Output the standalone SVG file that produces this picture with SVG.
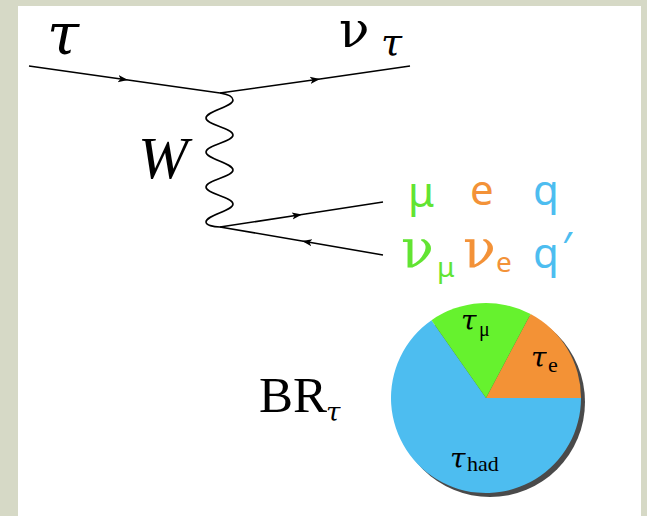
<svg xmlns="http://www.w3.org/2000/svg" width="647" height="516" viewBox="0 0 647 516">
<defs>
<style>
.ln{fill:none;stroke:#000;stroke-width:1.6}
.ar{marker-mid:url(#arr)}
text{opacity:0.999}
.g{font-family:"Liberation Serif",serif}
.gi{font-family:"DejaVu Serif",serif;font-style:italic}
.gu{font-family:"DejaVu Serif",serif}
.s{font-family:"Noto Sans",sans-serif}
.grn{fill:#62e432}
.org{fill:#f39238}
.blu{fill:#4dbdf0}
</style>
<marker id="arr" markerUnits="userSpaceOnUse" markerWidth="12" markerHeight="10" refX="10" refY="0" viewBox="0 -5 12 10" orient="auto">
<path d="M0,-3.6 L10,0 L0,3.6 L2.5,0 Z" fill="#000"/>
</marker>
</defs>
<rect x="0" y="0" width="647" height="516" fill="#d6d9c6"/>
<rect x="18" y="6" width="623" height="510" fill="#fff"/>
<g id="connectors">
<path class="ln ar" d="M29,66 L128,80 L220,93"/>
<path class="ln ar" d="M220,93 L320,79 L410,66"/>
<path class="ln" d="M220,93 C226,94 233,96 233,100 C233,107 206,111 206,118 C206,125 233,128 233,135 C233,142 206,145 206,152 C206,159 233,163 233,170 C233,177 206,180 206,187 C206,194 233,197 233,204 C233,211 206,215 206,222 C206,225 213,227 220,227"/>
<path class="ln ar" d="M220,227 L302,214.5 L383,202"/>
<path class="ln ar" d="M383,255 L302,241 L220,227"/>
</g>
<g id="label-tau"><text class="gi" x="47" y="54" font-size="58">τ</text></g>
<g id="label-nutau"><text class="gu" x="339" y="47" font-size="50">ν</text><text class="gi" x="381" y="55" font-size="38">τ</text></g>
<g id="label-W"><text class="g" x="138" y="178" font-size="60" font-style="italic">W</text></g>
<g id="final-states">
<text class="s grn" x="408" y="207" font-size="42">μ</text>
<text class="s org" x="470" y="205" font-size="42">e</text>
<text class="s blu" x="533" y="205" font-size="42">q</text>
<text class="gu grn" x="401" y="267" font-size="54">ν</text>
<text class="s grn" x="437" y="277" font-size="28">μ</text>
<text class="gu org" x="463" y="267" font-size="54">ν</text>
<text class="s org" x="496" y="272" font-size="28">e</text>
<text class="s blu" x="533" y="268" font-size="42">q</text>
<text class="s blu" x="562" y="262" font-size="42">′</text>
</g>
<g id="label-BR"><text class="g" x="259" y="412" font-size="51">BR</text><text class="gi" x="326" y="421" font-size="26">τ</text></g>
<g id="pie">
<circle cx="490" cy="402" r="95" fill="#4a4a4a"/>
<path d="M486,398 L431.5,320.2 A95,95 0 1 0 581,398 Z" fill="#4dbdf0"/>
<path d="M486,398 L581,398 A95,95 0 0 0 530.6,314.1 Z" fill="#f39236"/>
<path d="M486,398 L530.6,314.1 A95,95 0 0 0 431.5,320.2 Z" fill="#66f22e"/>
<text class="gi" x="461" y="330" font-size="28">τ</text><text class="g" x="479" y="336" font-size="20">μ</text>
<text class="gi" x="531" y="367" font-size="28">τ</text><text class="g" x="548" y="372" font-size="22">e</text>
<text class="gi" x="450" y="468" font-size="28">τ</text><text class="g" x="467" y="471" font-size="22">had</text>
</g>
</svg>
